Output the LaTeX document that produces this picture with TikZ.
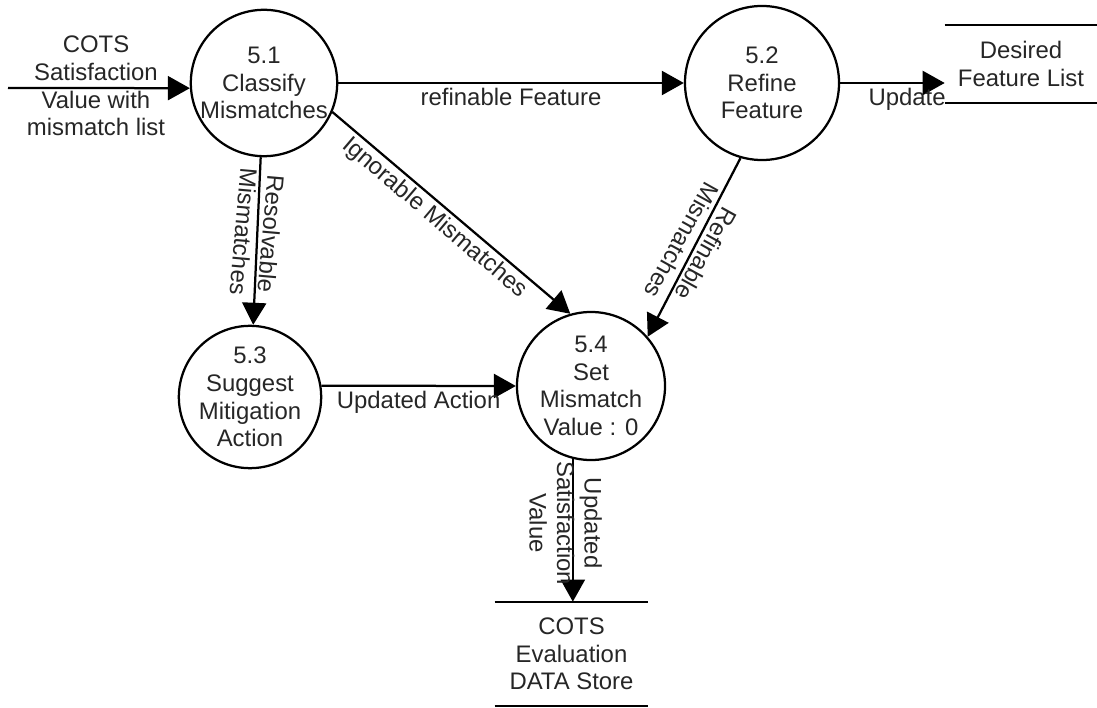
\documentclass[tikz,border=0pt]{standalone}
\usepackage{fontspec}
\setmainfont{Liberation Sans}
\usetikzlibrary{arrows.meta}
\begin{document}
\begin{tikzpicture}[x=0.025cm,y=-0.025cm,
  every node/.style={font=\fontsize{17}{19.6}\selectfont, text=black!85},
  proc/.style={circle,draw=black,line width=1.6pt,align=center,inner sep=0pt},
  flow/.style={line width=1.6pt,-{Triangle[length=0.55cm,width=0.6cm]}},
  lbl/.style={align=center,inner sep=1pt},
  storebox/.style={align=center,inner sep=0pt},
  storeline/.style={line width=1.6pt}]
\useasboundingbox (0,0) rectangle (1097,708);
% processes
\node[proc,minimum size=3.6cm]  (c51) at (264,83)  {5.1\\Classify\\Mismatches};
\node[proc,minimum size=3.85cm] (c52) at (762,83)  {5.2\\Refine\\Feature};
\node[proc,minimum size=3.4cm]  (c53) at (250,397) {5.3\\Suggest\\Mitigation\\Action};
\node[proc,minimum size=3.7cm]  (c54) at (591,386) {5.4\\Set\\Mismatch\\Value : 0};
% data stores
\node[storebox,minimum width=3.8cm,minimum height=1.95cm] (dfl) at (1021,64) {Desired\\Feature List};
\draw[storeline] (dfl.north west) -- (dfl.north east) (dfl.south west) -- (dfl.south east);
\node[storebox,minimum width=3.825cm,minimum height=2.6cm] (cst) at (571.5,654) {COTS\\Evaluation\\DATA Store};
\draw[storeline] (cst.north west) -- (cst.north east) (cst.south west) -- (cst.south east);
% input
\coordinate (inp) at (8,88);
\node[lbl] (inlbl) at (96,86) {COTS\\Satisfaction\\Value with\\mismatch list};
\draw[flow] (inp) -- (c51.184);
% flows
\draw[flow] (c51) -- (c52) node[pos=.5,below=2pt,lbl] {refinable Feature};
\draw[flow] (c52) -- (c52 -| dfl.west) node[pos=.64,below=2pt,lbl] {Update};
\draw[flow] (c51) -- (c53) node[pos=.45,rotate=-95,lbl] {Resolvable\\Mismatches};
\draw[flow] (c51.-23) -- (c54.106) node[pos=.47,sloped,below=1pt,lbl] {Ignorable Mismatches};
\draw[flow] (c52.-106) -- (c54.41) node[pos=.5,rotate=-119,lbl] {Refinable\\Mismatches};
\draw[flow] (c53.9) -- (c54.west) node[midway,below=2pt,lbl] {Updated Action};
\draw[flow] (c54.-104) -- (c54.-104 |- cst.north) node[pos=.45,xshift=-0.18cm,rotate=-90,lbl] {Updated\\Satisfaction\\Value};
\end{tikzpicture}
\end{document}
